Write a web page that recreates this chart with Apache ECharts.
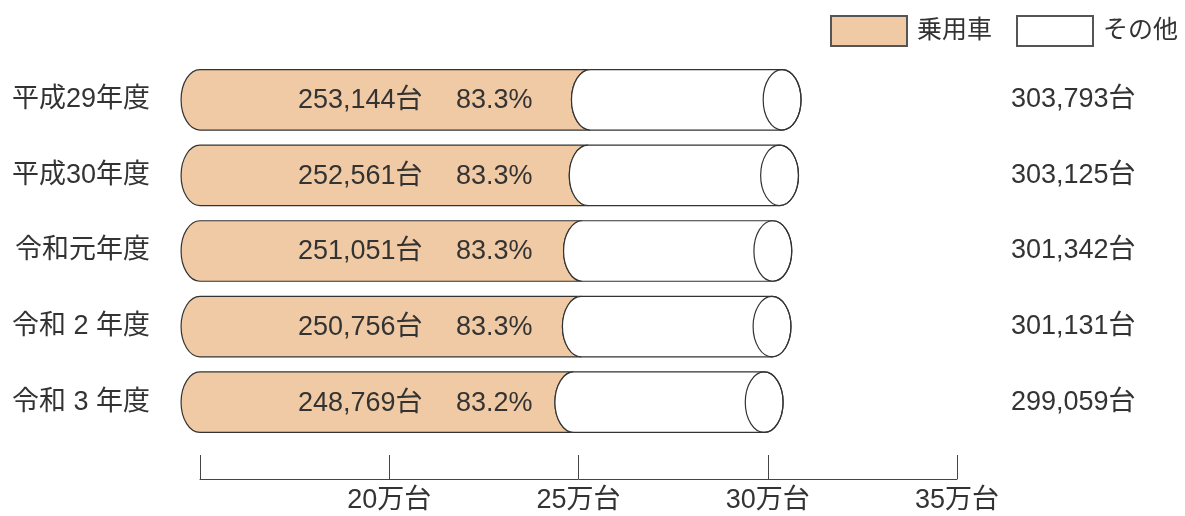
<!DOCTYPE html>
<html>
<head>
<meta charset="utf-8">
<script src="https://cdn.jsdelivr.net/npm/echarts@6/dist/echarts.min.js"></script>
<style>
  html, body { margin: 0; padding: 0; background: #fff; }
  #main { width: 1185px; height: 516px; }
</style>
</head>
<body>
<div id="main"></div>
<script>
var years = ['平成29年度', '平成30年度', '令和元年度', '令和 2 年度', '令和 3 年度'];
var passenger = [253144, 252561, 251051, 250756, 248769];
var share = [83.3, 83.3, 83.3, 83.3, 83.2];
var total = [303793, 303125, 301342, 301131, 299059];
var ticks = [150000, 200000, 250000, 300000, 350000];

var START = 150000;   // 円柱の左端
var CAP = 5000;       // 楕円の横半径（データ単位）
var FONT = "'Liberation Sans', 'Noto Sans CJK JP', sans-serif";
var ORANGE = '#f0caa4';
var LINE = '#333';

function fmt(n) {
    return String(n).replace(/\B(?=(\d{3})+(?!\d))/g, ',');
}

var rows = [];
for (var i = 0; i < years.length; i++) {
    rows.push([i, passenger[i], total[i], share[i]]);
}

var myChart = echarts.init(document.getElementById('main'));

function renderCylinder(params, api) {
    var i = api.value(0);
    var s = api.coord([START, i]);
    var p = api.coord([api.value(1), i]);
    var t = api.coord([api.value(2), i]);
    var band = api.size([0, 1])[1];
    var ry = band * 0.8 / 2;
    var rx = api.size([CAP, 0])[0];
    var k = 0.5523;
    var cy = s[1], top = cy - ry, bot = cy + ry;
    var x0 = s[0], xp = p[0], xt = t[0];

    // 左半分の楕円（上→下）
    function leftDown(x) {
        return 'C' + (x - k * rx) + ',' + top + ' ' + (x - rx) + ',' + (cy - k * ry) + ' ' + (x - rx) + ',' + cy +
            ' C' + (x - rx) + ',' + (cy + k * ry) + ' ' + (x - k * rx) + ',' + bot + ' ' + x + ',' + bot;
    }
    // 左半分の楕円（下→上）
    function leftUp(x) {
        return 'C' + (x - k * rx) + ',' + bot + ' ' + (x - rx) + ',' + (cy + k * ry) + ' ' + (x - rx) + ',' + cy +
            ' C' + (x - rx) + ',' + (cy - k * ry) + ' ' + (x - k * rx) + ',' + top + ' ' + x + ',' + top;
    }
    // 右半分の楕円（下→上）
    function rightUp(x) {
        return 'C' + (x + k * rx) + ',' + bot + ' ' + (x + rx) + ',' + (cy + k * ry) + ' ' + (x + rx) + ',' + cy +
            ' C' + (x + rx) + ',' + (cy - k * ry) + ' ' + (x + k * rx) + ',' + top + ' ' + x + ',' + top;
    }

    var orangePath = 'M' + x0 + ',' + top + ' ' + leftDown(x0) + ' L' + xp + ',' + bot + ' ' + leftUp(xp) + ' Z';
    var whitePath = 'M' + xp + ',' + top + ' ' + leftDown(xp) + ' L' + xt + ',' + bot + ' ' + rightUp(xt) + ' Z';

    return {
        type: 'group',
        children: [
            {
                type: 'path',
                shape: { pathData: orangePath },
                style: { fill: ORANGE, stroke: LINE, lineWidth: 1.2 }
            },
            {
                type: 'path',
                shape: { pathData: whitePath },
                style: { fill: '#fff', stroke: LINE, lineWidth: 1.2 }
            },
            {
                type: 'ellipse',
                shape: { cx: xt, cy: cy, rx: rx, ry: ry },
                style: { fill: null, stroke: LINE, lineWidth: 1.2 }
            },
            {
                type: 'text',
                x: x0 + 98,
                y: cy + 1,
                style: {
                    text: fmt(api.value(1)) + '台',
                    fill: '#333',
                    font: '27px ' + FONT,
                    verticalAlign: 'middle',
                    align: 'left'
                }
            },
            {
                type: 'text',
                x: x0 + 256,
                y: cy + 1,
                style: {
                    text: api.value(3).toFixed(1) + '%',
                    fill: '#333',
                    font: '27px ' + FONT,
                    verticalAlign: 'middle',
                    align: 'left'
                }
            }
        ]
    };
}

var option = {
    animation: false,
    backgroundColor: '#fff',
    legend: {
        right: 7,
        top: 15,
        padding: 0,
        itemWidth: 76,
        itemHeight: 30,
        itemGap: 24,
        icon: 'rect',
        selectedMode: false,
        textStyle: { fontSize: 25, color: '#333', fontFamily: FONT, padding: [0, 0, 0, 5] },
        data: ['乗用車', 'その他']
    },
    grid: {
        left: 200,
        right: 228,
        top: 62,
        bottom: 76
    },
    xAxis: {
        type: 'value',
        min: ticks[0],
        max: ticks[ticks.length - 1],
        interval: 50000,
        offset: 39,
        splitLine: { show: false },
        axisLine: { show: true, lineStyle: { color: '#444', width: 1 } },
        axisTick: { show: true, inside: true, length: 24, lineStyle: { color: '#444', width: 1 } },
        axisLabel: {
            fontSize: 27,
            color: '#333',
            fontFamily: FONT,
            margin: 8,
            formatter: function (v) {
                if (v === ticks[0]) return '';
                return (v / 10000) + '万台';
            }
        }
    },
    yAxis: [
        {
            type: 'category',
            inverse: true,
            data: years,
            axisLine: { show: false },
            axisTick: { show: false },
            axisLabel: { fontSize: 27, color: '#333', fontFamily: FONT, margin: 50 }
        },
        {
            type: 'category',
            inverse: true,
            position: 'right',
            data: total.map(function (v) { return fmt(v) + '台'; }),
            axisLine: { show: false },
            axisTick: { show: false },
            axisLabel: { fontSize: 27, color: '#333', fontFamily: FONT, margin: 54, align: 'left' }
        }
    ],
    series: [
        {
            name: '乗用車',
            type: 'bar',
            data: [],
            itemStyle: { color: ORANGE, borderColor: '#555', borderWidth: 1 }
        },
        {
            name: 'その他',
            type: 'bar',
            data: [],
            itemStyle: { color: '#fff', borderColor: '#555', borderWidth: 1 }
        },
        {
            type: 'custom',
            renderItem: renderCylinder,
            clip: false,
            encode: { x: [1, 2], y: 0 },
            data: rows
        }
    ]
};

myChart.setOption(option);
</script>
</body>
</html>
